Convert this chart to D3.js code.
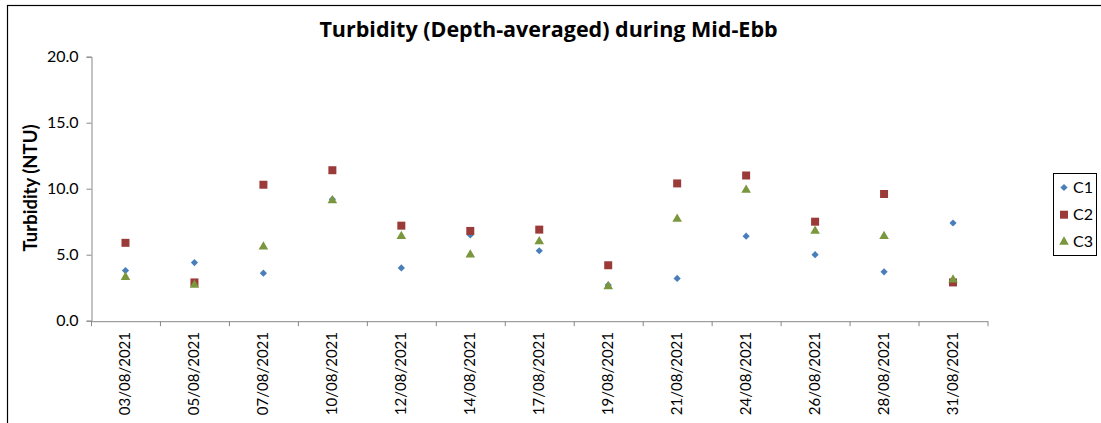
<!DOCTYPE html>
<html>
<head>
<meta charset="utf-8">
<script src="https://cdn.jsdelivr.net/npm/d3@7"></script>
<style>
  body { margin: 0; background: #fff; }
  svg text { font-family: Lato, "Open Sans", sans-serif; fill: #000; }
</style>
</head>
<body>
<svg id="chart" width="1101" height="423"></svg>
<script>
// data
const dates = ["03/08/2021", "05/08/2021", "07/08/2021", "10/08/2021", "12/08/2021", "14/08/2021",
  "17/08/2021", "19/08/2021", "21/08/2021", "24/08/2021", "26/08/2021", "28/08/2021", "31/08/2021"];
const c1 = [3.8, 4.4, 3.6, 9.2, 4.0, 6.5, 5.3, 2.7, 3.2, 6.4, 5.0, 3.7, 7.4];
const c2 = [5.9, 2.9, 10.3, 11.4, 7.2, 6.8, 6.9, 4.2, 10.4, 11.0, 7.5, 9.6, 2.9];
const c3 = [3.3, 2.7, 5.6, 9.1, 6.4, 5.0, 6.0, 2.6, 7.7, 9.9, 6.8, 6.4, 3.1];
const yTicks = [0, 5, 10, 15, 20];

const series = [
  { name: "C1", values: c1, color: "#4a7ebb", symbol: d3.symbolSquare, size: 26, rot: 45 },
  { name: "C2", values: c2, color: "#9b3b39", symbol: d3.symbolSquare, size: 64, rot: 0 },
  { name: "C3", values: c3, color: "#7b973d", symbol: d3.symbolTriangle, size: 40, rot: 0 }
];

const svg = d3.select("#chart");

// outer chart frame (runs off the right and bottom of the picture)
svg.append("rect")
  .attr("x", 7.5).attr("y", 5.5)
  .attr("width", 1110).attr("height", 440)
  .attr("fill", "none").attr("stroke", "#000").attr("stroke-width", 1.2);

const x = d3.scaleBand().domain(dates).range([91, 987.5]);
const y = d3.scaleLinear().domain([0, 20]).range([320.7, 56.7]);

// y axis
const yAxis = svg.append("g")
  .attr("transform", "translate(91.5,0)")
  .call(d3.axisLeft(y).tickValues(yTicks).tickFormat(d3.format(".1f")).tickSizeOuter(0).tickSize(5).tickPadding(8));

// x axis, ticks at category boundaries
const xAxis = svg.append("g")
  .attr("transform", `translate(0,${y(0) + 0.5})`)
  .call(d3.axisBottom(x).tickSize(0).tickSizeOuter(0).tickFormat(""));

const bounds = d3.range(dates.length + 1).map(i => 91 + i * x.step());
xAxis.selectAll("line.bound")
  .data(bounds)
  .join("line")
  .attr("class", "bound")
  .attr("x1", d => d + 0.5).attr("x2", d => d + 0.5)
  .attr("y1", 0).attr("y2", 5)
  .attr("stroke", "#888");

[yAxis, xAxis].forEach(g => {
  g.select(".domain").attr("stroke", "#888");
  g.selectAll(".tick line").attr("stroke", "#888");
});
yAxis.selectAll(".tick text").attr("font-size", 16).attr("fill", "#000");

// rotated date labels
svg.append("g")
  .selectAll("text")
  .data(dates)
  .join("text")
  .attr("transform", d => `translate(${x(d) + x.bandwidth() / 2 + 5},332) rotate(-90)`)
  .attr("text-anchor", "end")
  .attr("font-size", 15)
  .text(d => d);

// points
series.forEach(s => {
  svg.append("g")
    .selectAll("path")
    .data(s.values)
    .join("path")
    .attr("transform", (d, i) => `translate(${x(dates[i]) + x.bandwidth() / 2},${y(d)}) rotate(${s.rot})`)
    .attr("d", d3.symbol().type(s.symbol).size(s.size))
    .attr("fill", s.color);
});

// title
svg.append("text")
  .attr("x", 548.5).attr("y", 37)
  .attr("text-anchor", "middle")
  .style("font-family", "'Open Sans', sans-serif")
  .attr("font-size", 21.5).attr("font-weight", "bold")
  .text("Turbidity (Depth-averaged) during Mid-Ebb");

// y axis title
svg.append("text")
  .attr("transform", "translate(37,188) rotate(-90)")
  .attr("text-anchor", "middle")
  .attr("font-size", 18.5).attr("font-weight", "bold")
  .text("Turbidity (NTU)");

// legend
const legend = svg.append("g");
legend.append("rect")
  .attr("x", 1053.5).attr("y", 173.5)
  .attr("width", 43).attr("height", 82)
  .attr("fill", "#fff").attr("stroke", "#000").attr("stroke-width", 1);

const items = legend.selectAll("g.item")
  .data(series)
  .join("g")
  .attr("class", "item")
  .attr("transform", (d, i) => `translate(1064,${187.5 + i * 27.2})`);
items.append("path")
  .attr("d", d => d3.symbol().type(d.symbol).size(d.size)())
  .attr("transform", d => `rotate(${d.rot})`)
  .attr("fill", d => d.color);
items.append("text")
  .attr("x", 9).attr("y", 5.5)
  .attr("font-size", 16)
  .text(d => d.name);
</script>
</body>
</html>
